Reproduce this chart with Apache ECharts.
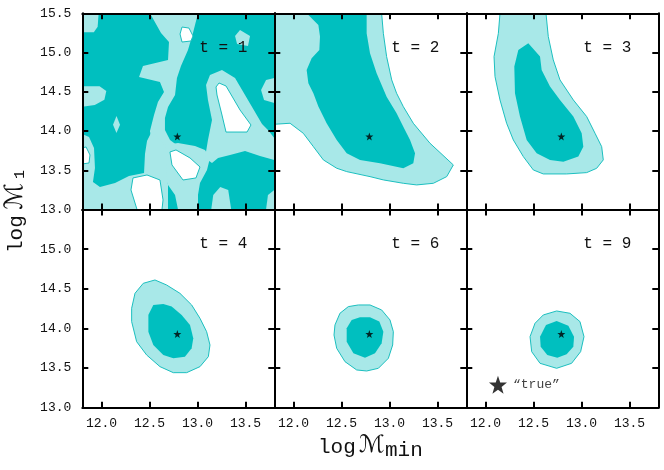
<!DOCTYPE html>
<html>
<head>
<meta charset="utf-8">
<script src="https://cdn.jsdelivr.net/npm/echarts@6/dist/echarts.min.js"></script>
<style>
html,body{margin:0;padding:0;background:#fff;}
#chart{width:664px;height:470px;}
</style>
</head>
<body>
<div id="chart"></div>
<script>
// ---------------- DATA ----------------
const X_RANGE = [11.8, 13.8];
const Y_RANGE = [13.0, 15.5];
const X_TICKS = [12.0, 12.5, 13.0, 13.5];
const Y_TICKS = [13.0, 13.5, 14.0, 14.5, 15.0, 15.5];
const PANEL_LABELS = ['t = 1', 't = 2', 't = 3', 't = 4', 't = 6', 't = 9'];
const TRUE_POINT = [12.79, 13.93];
const LEGEND_STAR = [12.13, 13.29];
const LEGEND_TEXT = '\u201Ctrue\u201D';

// t = 1 (mostly inside the inner contour)
const T1_DARK_BG = [[11.8,13.0],[13.8,13.0],[13.8,15.5],[11.8,15.5]];
const T1_LIGHT_CORNER = [[11.8,15.5],[11.97,15.5],[11.96,15.33],[11.92,15.26],[11.8,15.26]];
const T1_LIGHT_EDGE = [[11.8,14.57],[11.98,14.57],[12.05,14.51],[12.03,14.40],[11.93,14.33],[11.8,14.31]];
const T1_LIGHT_DIAMOND = [[12.156,14.19],[12.193,14.08],[12.156,13.975],[12.12,14.08]];
const T1_LIGHT_BAND_TOP = [[12.505,15.5],[13.005,15.5],[12.953,15.249],[12.901,15.032],[12.828,14.829],[12.786,14.676],[12.766,14.459],[12.693,14.306],[12.661,14.166],[12.661,14.013],[12.714,13.886],[12.797,13.809],[12.661,13.759],[12.526,13.822],[12.505,14.0],[12.547,14.204],[12.588,14.37],[12.651,14.497],[12.609,14.625],[12.391,14.689],[12.432,14.829],[12.693,14.905],[12.703,15.134],[12.62,15.249]];
const T1_LIGHT_MID = [[12.661,13.822],[12.797,13.847],[12.974,13.809],[13.078,13.759],[13.130,13.657],[13.099,13.504],[13.026,13.338],[13.005,13.185],[13.005,13.0],[12.797,13.0],[12.766,13.185],[12.693,13.312],[12.641,13.478],[12.609,13.631]];
const T1_LIGHT_BAND_LOW = [[11.8,13.962],[11.87,13.924],[11.922,13.784],[11.932,13.529],[11.911,13.351],[11.984,13.287],[12.141,13.338],[12.286,13.427],[12.443,13.466],[12.453,13.708],[12.474,13.873],[12.526,14.0],[12.609,13.886],[12.693,13.759],[12.672,13.478],[12.693,13.312],[12.693,13.0],[11.8,13.0]];
const T1_LIGHT_RIGHT = [[13.089,14.587],[13.130,14.714],[13.255,14.778],[13.391,14.676],[13.495,14.459],[13.599,14.243],[13.672,14.090],[13.734,14.013],[13.8,13.911],[13.8,13.631],[13.651,13.682],[13.495,13.746],[13.339,13.695],[13.214,13.657],[13.151,13.593],[13.078,13.657],[13.109,13.886],[13.151,14.141],[13.109,14.396]];
const T1_LIGHT_REDGE = [[13.8,14.676],[13.714,14.650],[13.662,14.523],[13.693,14.396],[13.8,14.357]];
const T1_LIGHT_SPOT = [[13.443,15.287],[13.547,15.211],[13.526,15.083],[13.412,15.108],[13.391,15.211]];
const T1_LIGHT_BOT1 = [[13.143,13.0],[13.164,13.185],[13.237,13.287],[13.32,13.249],[13.351,13.0]];
const T1_LIGHT_BOT2 = [[13.8,13.249],[13.734,13.185],[13.714,13.0],[13.8,13.0]];
const T1_HOLE_TOP = [[12.839,15.325],[12.911,15.312],[12.953,15.211],[12.932,15.147],[12.839,15.134],[12.818,15.236]];
const T1_HOLE_BIG = [[13.224,14.612],[13.297,14.574],[13.370,14.421],[13.443,14.268],[13.557,14.077],[13.516,13.987],[13.297,13.987],[13.255,14.204],[13.203,14.459],[13.193,14.561]];
const T1_HOLE_MID = [[12.713,13.733],[12.776,13.759],[12.922,13.657],[13.026,13.542],[12.984,13.402],[12.849,13.376],[12.734,13.568]];
const T1_HOLE_BOT = [[12.328,13.402],[12.474,13.44],[12.609,13.376],[12.641,13.122],[12.630,13.0],[12.370,13.0],[12.307,13.249]];
const T1_HOLE_LEFT = [[11.8,13.784],[11.839,13.797],[11.88,13.695],[11.87,13.593],[11.8,13.58]];

// t = 2
const T2_OUTER = [[11.8,15.5],[12.918,15.5],[12.936,15.245],[12.970,14.948],[13.023,14.651],[13.074,14.481],[13.144,14.311],[13.248,14.099],[13.422,13.844],[13.665,13.568],[13.596,13.419],[13.457,13.334],[13.283,13.313],[13.144,13.334],[12.936,13.377],[12.797,13.419],[12.554,13.483],[12.450,13.526],[12.311,13.632],[12.207,13.801],[12.102,13.971],[11.964,14.099],[11.8,14.086]];
const T2_INNER = [[12.137,15.5],[12.259,15.351],[12.276,15.203],[12.269,15.033],[12.189,14.927],[12.137,14.778],[12.155,14.608],[12.207,14.481],[12.259,14.311],[12.345,14.099],[12.450,13.886],[12.554,13.717],[12.693,13.632],[12.901,13.589],[13.144,13.525],[13.248,13.589],[13.266,13.717],[13.214,13.886],[13.144,14.056],[13.074,14.226],[12.970,14.438],[12.866,14.736],[12.797,14.990],[12.762,15.245],[12.762,15.5]];

// t = 3
const T3_OUTER = [[12.151,15.5],[12.134,15.245],[12.089,14.948],[12.099,14.693],[12.151,14.396],[12.220,14.099],[12.290,13.886],[12.394,13.674],[12.498,13.504],[12.602,13.453],[12.845,13.453],[13.054,13.470],[13.158,13.525],[13.227,13.632],[13.210,13.801],[13.141,13.971],[13.054,14.184],[12.915,14.396],[12.776,14.651],[12.706,14.906],[12.654,15.203],[12.630,15.5]];
const T3_INNER = [[12.446,15.118],[12.568,14.948],[12.585,14.778],[12.672,14.566],[12.776,14.396],[12.915,14.184],[13.002,13.971],[13.019,13.801],[12.967,13.674],[12.811,13.610],[12.672,13.632],[12.533,13.717],[12.429,13.886],[12.359,14.184],[12.307,14.481],[12.300,14.821],[12.342,15.033]];

// t = 4
const T4_OUTER = [[12.557,14.611],[12.435,14.569],[12.349,14.443],[12.314,14.254],[12.314,14.086],[12.366,13.833],[12.470,13.665],[12.609,13.518],[12.748,13.442],[12.887,13.442],[13.026,13.518],[13.113,13.644],[13.130,13.791],[13.095,13.959],[13.026,14.127],[12.939,14.296],[12.817,14.443],[12.678,14.548]];
const T4_INNER = [[12.644,14.308],[12.540,14.296],[12.488,14.170],[12.488,13.959],[12.540,13.791],[12.644,13.665],[12.748,13.623],[12.869,13.644],[12.939,13.749],[12.956,13.875],[12.922,14.043],[12.835,14.170],[12.731,14.275]];

// t = 6
const T6_OUTER = [[12.675,14.296],[12.571,14.275],[12.484,14.191],[12.432,14.044],[12.422,13.917],[12.450,13.749],[12.536,13.581],[12.658,13.476],[12.762,13.463],[12.884,13.497],[12.988,13.623],[13.033,13.791],[13.040,13.959],[13.005,14.107],[12.918,14.233],[12.797,14.296]];
const T6_INNER = [[12.692,14.140],[12.606,14.107],[12.554,14.002],[12.554,13.833],[12.624,13.686],[12.745,13.631],[12.849,13.686],[12.918,13.812],[12.936,13.959],[12.894,14.086],[12.797,14.140]];

// t = 9
const T9_OUTER = [[12.741,14.220],[12.602,14.170],[12.516,14.065],[12.464,13.896],[12.481,13.707],[12.568,13.560],[12.741,13.497],[12.897,13.560],[12.991,13.707],[13.026,13.896],[12.984,14.086],[12.880,14.191]];
const T9_INNER = [[12.741,14.094],[12.630,14.044],[12.568,13.896],[12.575,13.770],[12.644,13.665],[12.748,13.631],[12.845,13.673],[12.915,13.770],[12.922,13.896],[12.863,14.035]];

// ---------------- STYLE / LAYOUT ----------------
const DARK = '#00bfbf';
const LIGHT = '#a8e8e8';
const EDGE = '#1cbfbf';
const FONT = '"Liberation Mono", "DejaVu Sans Mono", monospace';
const COL_L = [82.3, 274.3, 466.3];
const PW = 192;
const ROW_T = [13.3, 209.5];
const ROW_H = [196.2, 198.2];
const STAR = 'path://M0,-10L2.35,-3.24L9.51,-3.09L3.8,1.24L5.88,8.09L0,4.2L-5.88,8.09L-3.8,1.24L-9.51,-3.09L-2.35,-3.24Z';

const chart = echarts.init(document.getElementById('chart'), null, {renderer: 'canvas'});

const grids = [], xAxes = [], yAxes = [], series = [], graphics = [];
for (let g = 0; g < 6; g++) {
  const r = Math.floor(g / 3), c = g % 3;
  grids.push({left: COL_L[c], top: ROW_T[r], width: PW, height: ROW_H[r], containLabel: false, outerBoundsMode: 'none'});
}
function axisBase(g, isX, pos, showLabel, labelVals) {
  const ticks = isX ? X_TICKS : Y_TICKS;
  return {
    gridIndex: g, type: 'value', position: pos, z: 5,
    min: isX ? X_RANGE[0] : Y_RANGE[0], max: isX ? X_RANGE[1] : Y_RANGE[1],
    axisLine: {show: true, onZero: false, lineStyle: {color: '#000', width: 2}},
    axisTick: {show: true, inside: true, length: 6, customValues: ticks, lineStyle: {color: '#000', width: 2}},
    axisLabel: {show: showLabel, customValues: labelVals || ticks, formatter: v => Number(v).toFixed(1),
      fontFamily: FONT, fontSize: 13, color: '#111', margin: isX ? 9 : 11},
    splitLine: {show: false}
  };
}
for (let g = 0; g < 6; g++) {
  const r = Math.floor(g / 3), c = g % 3;
  xAxes.push(axisBase(g, true, 'bottom', r === 1));
  yAxes.push(axisBase(g, false, 'left', c === 0, r === 0 ? Y_TICKS : Y_TICKS.slice(0, 5)));
}
for (let g = 0; g < 6; g++) {
  xAxes.push(axisBase(g, true, 'top', false));
  yAxes.push(axisBase(g, false, 'right', false));
}

function poly(g, pts, fill, stroke, z) {
  series.push({
    type: 'custom', coordinateSystem: 'cartesian2d', xAxisIndex: g, yAxisIndex: g,
    data: [pts[0]], clip: true, silent: true, z: z, animation: false,
    renderItem: function (params, api) {
      return {type: 'polygon', shape: {points: pts.map(p => api.coord(p))},
        style: {fill: fill, stroke: stroke || null, lineWidth: stroke ? 1 : 0}};
    }
  });
}
// t = 1
poly(0, T1_DARK_BG, DARK, null, 1);
[T1_LIGHT_CORNER, T1_LIGHT_EDGE, T1_LIGHT_DIAMOND, T1_LIGHT_BAND_TOP, T1_LIGHT_MID, T1_LIGHT_BAND_LOW,
 T1_LIGHT_RIGHT, T1_LIGHT_REDGE, T1_LIGHT_SPOT, T1_LIGHT_BOT1, T1_LIGHT_BOT2].forEach(p => poly(0, p, LIGHT, null, 2));
[T1_HOLE_TOP, T1_HOLE_BIG, T1_HOLE_MID, T1_HOLE_BOT, T1_HOLE_LEFT].forEach(p => poly(0, p, '#fff', EDGE, 3));
// other panels
[[T2_OUTER, T2_INNER], [T3_OUTER, T3_INNER], [T4_OUTER, T4_INNER], [T6_OUTER, T6_INNER], [T9_OUTER, T9_INNER]]
  .forEach((pair, i) => { poly(i + 1, pair[0], LIGHT, EDGE, 2); poly(i + 1, pair[1], DARK, null, 3); });

for (let g = 0; g < 6; g++) {
  series.push({type: 'scatter', xAxisIndex: g, yAxisIndex: g, data: [TRUE_POINT], symbol: STAR, symbolSize: 8,
    itemStyle: {color: '#000'}, z: 6, silent: true, animation: false});
}
series.push({type: 'scatter', xAxisIndex: 5, yAxisIndex: 5, data: [LEGEND_STAR], symbol: STAR, symbolSize: 18,
  itemStyle: {color: '#000'}, z: 6, silent: true, animation: false,
  label: {show: true, position: 'right', distance: 6, formatter: LEGEND_TEXT, fontFamily: FONT, fontSize: 13, color: '#111'}});

// panel titles
for (let g = 0; g < 6; g++) {
  const r = Math.floor(g / 3), c = g % 3;
  graphics.push({type: 'text', x: COL_L[c] + PW - 27, y: ROW_T[r] + 34, z: 10,
    style: {text: PANEL_LABELS[g], align: 'right', verticalAlign: 'middle', font: '16px ' + FONT, fill: '#111'}});
}
// x axis title
graphics.push({type: 'text', x: 318, y: 447, z: 10, style: {text: 'log', verticalAlign: 'middle', font: '21px ' + FONT, fill: '#111'}});
graphics.push({type: 'text', x: 359, y: 446, z: 10, style: {text: '\u2133', verticalAlign: 'middle', font: 'italic 24px "DejaVu Serif", "DejaVu Sans", serif', fill: '#111'}});
graphics.push({type: 'text', x: 385, y: 450, z: 10, style: {text: 'min', verticalAlign: 'middle', font: '21px ' + FONT, fill: '#111'}});
// y axis title (rotated)
graphics.push({type: 'group', x: 22, y: 253, rotation: Math.PI / 2, z: 10, children: [
  {type: 'text', x: 0, y: -6, style: {text: 'log', verticalAlign: 'middle', font: '21px ' + FONT, fill: '#111'}},
  {type: 'text', x: 43, y: -7, style: {text: '\u2133', verticalAlign: 'middle', font: 'italic 25px "DejaVu Serif", "DejaVu Sans", serif', fill: '#111'}},
  {type: 'text', x: 74, y: -2, style: {text: '1', verticalAlign: 'middle', font: '15px ' + FONT, fill: '#111'}}
]});

chart.setOption({
  animation: false,
  backgroundColor: '#fff',
  grid: grids, xAxis: xAxes, yAxis: yAxes, series: series, graphic: graphics
});
</script>
</body>
</html>
